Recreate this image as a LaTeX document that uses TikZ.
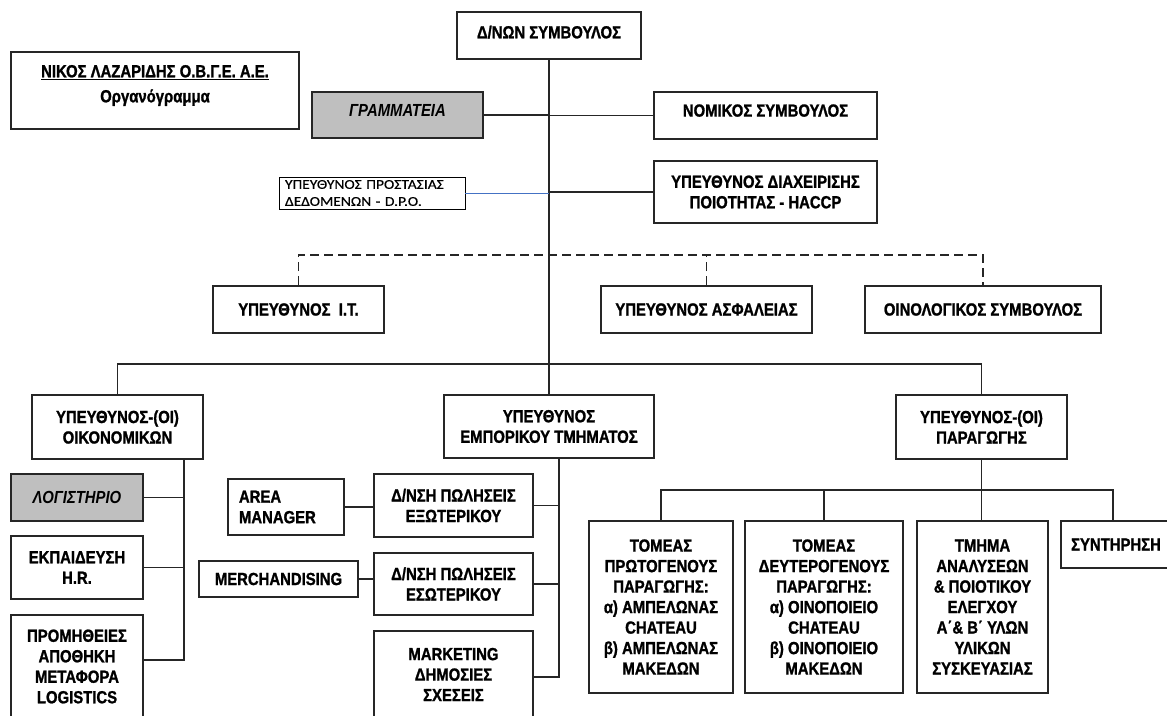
\documentclass[tikz,border=0pt]{standalone}
\usepackage{fontspec}
\newfontfamily\boxfont{Liberation Sans}[FakeStretch=0.85, BoldFeatures={FakeBold=1.2}]
\newfontfamily\dpofont{Carlito}[FakeStretch=1.15, FakeBold=0.5]
\definecolor{dpoblue}{RGB}{68,114,196}
\begin{document}
\begin{tikzpicture}[x=1pt, y=-1pt,
  box/.style={draw=black!85, line width=1.6pt, inner sep=0pt, align=center,
    font=\boxfont\bfseries\fontsize{17.5}{20.5}\selectfont},
  greybox/.style={box, fill=black!25, font=\boxfont\bfseries\itshape\fontsize{17.5}{20.5}\selectfont},
  leftbox/.style={box, align=left, inner xsep=11pt},
  dpobox/.style={draw=black, line width=0.8pt, align=left, inner xsep=6pt, inner ysep=0pt,
    text width=174pt, minimum height=32pt, font=\dpofont\fontsize{13.5}{17}\selectfont},
  sz/.style 2 args={minimum width=#1, minimum height=#2},
  raised/.style={text depth=#1},
  link/.style={draw=black!85, line width=1.5pt},
  dashlink/.style={link, dash pattern=on 9pt off 5pt},
  dpolink/.style={draw=dpoblue, line width=0.8pt}]
\useasboundingbox (0,0) rectangle (1167,715);

\node[box, sz={288}{77}] (title) at (155,90.5) {};
\node[align=center, font=\boxfont\bfseries\fontsize{17.5}{25}\selectfont] (titletext) at (155,85.5)
  {\underline{ΝΙΚΟΣ ΛΑΖΑΡΙΔΗΣ Ο.Β.Γ.Ε. Α.Ε.}\\Οργανόγραμμα};

\node[box, sz={184}{47}, raised=7pt] (dnon) at (549,35.5) {Δ/ΝΩΝ ΣΥΜΒΟΥΛΟΣ};
\node[greybox, sz={171}{46}, raised=10pt] (gram) at (397.5,115) {ΓΡΑΜΜΑΤΕΙΑ};
\node[box, sz={223}{47}, raised=10pt] (nom) at (765.5,115.5) {ΝΟΜΙΚΟΣ ΣΥΜΒΟΥΛΟΣ};
\node[dpobox] (dpo) at (372,193) {ΥΠΕΥΘΥΝΟΣ ΠΡΟΣΤΑΣΙΑΣ\\ΔΕΔΟΜΕΝΩΝ - D.P.O.};
\node[box, sz={223}{62}] (haccp) at (765.5,192) {ΥΠΕΥΘΥΝΟΣ ΔΙΑΧΕΙΡΙΣΗΣ\\ΠΟΙΟΤΗΤΑΣ - HACCP};

\node[box, sz={171}{47}] (it) at (298.5,309.5) {ΥΠΕΥΘΥΝΟΣ\ \ Ι.Τ.};
\node[box, sz={211}{47}] (asf) at (706.5,309.5) {ΥΠΕΥΘΥΝΟΣ ΑΣΦΑΛΕΙΑΣ};
\node[box, sz={236}{47}] (oino) at (983,309.5) {ΟΙΝΟΛΟΓΙΚΟΣ ΣΥΜΒΟΥΛΟΣ};

\node[box, sz={171}{64}] (oik) at (117.5,427) {ΥΠΕΥΘΥΝΟΣ-(ΟΙ)\\ΟΙΚΟΝΟΜΙΚΩΝ};
\node[box, sz={210}{63}] (empor) at (549,426.5) {ΥΠΕΥΘΥΝΟΣ\\ΕΜΠΟΡΙΚΟΥ ΤΜΗΜΑΤΟΣ};
\node[box, sz={171}{64}] (parag) at (981.5,427) {ΥΠΕΥΘΥΝΟΣ-(ΟΙ)\\ΠΑΡΑΓΩΓΗΣ};

\node[greybox, sz={132}{47}] (log) at (77,497.5) {ΛΟΓΙΣΤΗΡΙΟ};
\node[box, sz={132}{63}] (ekp) at (77,567.5) {ΕΚΠΑΙΔΕΥΣΗ\\H.R.};
\node[box, sz={132}{103}] (prom) at (77,666.5) {ΠΡΟΜΗΘΕΙΕΣ\\ΑΠΟΘΗΚΗ\\ΜΕΤΑΦΟΡΑ\\LOGISTICS};

\node[leftbox, text width=94pt, minimum height=56pt] (area) at (286,507) {AREA\\MANAGER};
\node[box, sz={159}{63}] (dns1) at (453.5,505.5) {Δ/ΝΣΗ ΠΩΛΗΣΕΙΣ\\ΕΞΩΤΕΡΙΚΟΥ};
\node[box, sz={159}{36}] (merch) at (278.5,579) {MERCHANDISING};
\node[box, sz={159}{62}] (dns2) at (453.5,584) {Δ/ΝΣΗ ΠΩΛΗΣΕΙΣ\\ΕΣΩΤΕΡΙΚΟΥ};
\node[box, sz={159}{87}] (mkt) at (453.5,674.5) {MARKETING\\ΔΗΜΟΣΙΕΣ\\ΣΧΕΣΕΙΣ};

\node[box, sz={144}{172}] (prot) at (661,607) {ΤΟΜΕΑΣ\\ΠΡΩΤΟΓΕΝΟΥΣ\\ΠΑΡΑΓΩΓΗΣ:\\α) ΑΜΠΕΛΩΝΑΣ\\CHATEAU\\β) ΑΜΠΕΛΩΝΑΣ\\ΜΑΚΕΔΩΝ};
\node[box, sz={158}{172}] (dev) at (824,607) {ΤΟΜΕΑΣ\\ΔΕΥΤΕΡΟΓΕΝΟΥΣ\\ΠΑΡΑΓΩΓΗΣ:\\α) ΟΙΝΟΠΟΙΕΙΟ\\CHATEAU\\β) ΟΙΝΟΠΟΙΕΙΟ\\ΜΑΚΕΔΩΝ};
\node[box, sz={131}{172}] (tmima) at (982.5,607) {ΤΜΗΜΑ\\ΑΝΑΛΥΣΕΩΝ\\\& ΠΟΙΟΤΙΚΟΥ\\ΕΛΕΓΧΟΥ\\Α΄\& Β΄ ΥΛΩΝ\\ΥΛΙΚΩΝ\\ΣΥΣΚΕΥΑΣΙΑΣ};
\node[box, sz={110}{47}] (synt) at (1116,544.5) {ΣΥΝΤΗΡΗΣΗ};

\coordinate (topbus) at (549,255);
\coordinate (midbus) at (549,364);
\coordinate (oikend) at (184,660);
\coordinate (empend) at (559,677);
\coordinate (parbus) at (982,490);
\coordinate (syntbus) at (1113,490);

\draw[link] (dnon.south) -- (empor.north);
\draw[link] (gram.east) -- (gram.east -| dnon.south);
\draw[link] (nom.west) -- (nom.west -| dnon.south);
\draw[dpolink] (dpo.east) -- (dpo.east -| dnon.south);
\draw[link] (haccp.west) -- (haccp.west -| dnon.south);
\draw[dashlink] (it.north) |- (topbus) -| (oino.north);
\draw[dashlink] (asf.north) -- (asf.north |- topbus);
\draw[link] (oik.north) |- (midbus) -| (parag.north);
\draw[link] (oik.south -| oikend) -- (oikend) -- (prom.east |- oikend);
\draw[link] (log.east) -- (log.east -| oikend);
\draw[link] (ekp.east) -- (ekp.east -| oikend);
\draw[link] (empor.south -| empend) -- (empend) -- (mkt.east |- empend);
\draw[link] (dns1.east) -- (dns1.east -| empend);
\draw[link] (dns2.east) -- (dns2.east -| empend);
\draw[link] (area.east) -- (area.east -| dns1.west);
\draw[link] (merch.east) -- (merch.east -| dns2.west);
\draw[link] (parag.south) -- (parag.south |- tmima.north);
\draw[link] (prot.north) |- (syntbus) -- (syntbus |- synt.north);
\draw[link] (dev.north) -- (dev.north |- parbus);
\end{tikzpicture}
\end{document}
